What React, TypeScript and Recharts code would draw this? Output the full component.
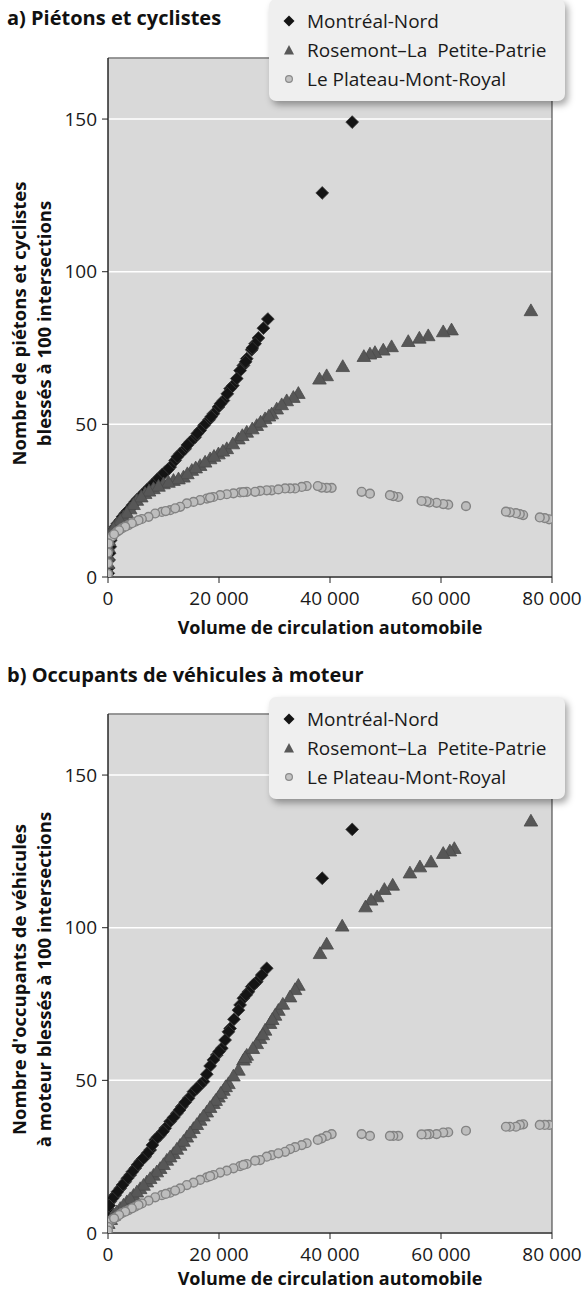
import React from "react";
import {
  ScatterChart,
  Scatter,
  XAxis,
  YAxis,
  CartesianGrid,
  ReferenceArea,
  Legend,
  Label,
} from "recharts";

const FONT = "'Open Sans', 'Noto Sans', sans-serif";

const SERIES_NAMES = [
  "Montréal-Nord",
  "Rosemont\u2013La  Petite-Patrie",
  "Le Plateau-Mont-Royal",
];
const X_TICKS = [0, 20000, 40000, 60000, 80000];
const Y_TICKS = [0, 50, 100, 150];

// a) piétons et cyclistes
const nordA_X = [
  28800, 27100, 26500, 25900, 25000, 24400, 23800, 22500, 22000, 20800, 19900,
  19000, 18200, 17300, 16600, 15700, 14800, 13900, 13000, 12100, 11200, 10300,
  9400, 8500, 7600, 6700, 5800, 4900, 4000, 3100, 2200, 1300, 700, 500, 400,
  300, 200, 100, 50, 38600, 44000,
  28000, 26000, 24800, 23200, 21500, 20300, 18600, 16100, 14300, 12500, 10800,
  9800, 8900, 8000, 7100, 6200, 5300, 4400, 3500, 2600, 1700, 1000,
];
const nordA_Y = [
  84.5, 78.3, 76.4, 74.4, 71.5, 69.3, 67.6, 62.7, 61.7, 57.8, 55.7, 53.5, 51.5,
  49.7, 48, 45.8, 44.2, 42, 40.4, 38.2, 36, 34.4, 32.8, 31.1, 29.5, 27.9, 26.2,
  24.6, 22.4, 20.8, 18.6, 16.4, 14.3, 12, 9.9, 7.8, 5.6, 3, 1.2, 125.8, 149,
  81.5, 75, 70.5, 65, 60, 56.8, 52.5, 47, 43.2, 39.4, 35.2,
  33.6, 32, 30.3, 28.7, 27, 25.4, 23.5, 21.6, 19.7, 17.5, 15.4,
];

const roseA_X = [
  61900, 60400, 57700, 56100, 54100, 51100, 49600, 48100, 47200, 46100, 42300,
  39400, 38100, 34300, 33400, 32200, 30400, 29500, 28300, 26800, 25000, 23500,
  21400, 19900, 18400, 16600, 15100, 13600, 11800, 10000, 8200, 6700, 5200,
  4000, 2800, 1600, 400, 50, 0, 0, 76200,
  31300, 29000, 27500, 26000, 24200, 22500, 20700, 19100, 17500, 15800, 14300,
  12700, 10900, 9100, 7400, 6000, 4600, 3400, 2200, 1000, 200, 0,
];
const roseA_Y = [
  81, 80.4, 79.1, 78.3, 77.2, 75.5, 74.4, 73.6, 73.1, 72.3, 69, 66, 64.9, 60.2,
  58.9, 57.8, 55.1, 53.5, 51.9, 49.7, 47.5, 45.3, 42.1, 40.4, 38.8, 36.6, 35,
  32.8, 31.7, 30.6, 29, 27.4, 25.2, 22.4, 19.7, 17.5, 14.3, 9.9, 4.5, 1, 87.3,
  56.5, 52.8, 50.8, 48.6, 46.4, 43.7, 41.3, 39.6, 37.7, 35.8, 33.9,
  32.2, 31.1, 29.8, 28.2, 26.3, 23.8, 21, 18.6, 16, 12, 7,
];

// même position des intersections du Plateau dans les deux graphiques
const plateau_X = [
  79500, 78700, 77800, 74800, 74200, 73500, 72400, 71700, 64500, 61300, 60400,
  59200, 57900, 57400, 56500, 52300, 51400, 50800, 47200, 45700, 40300, 39400,
  38500, 37800, 35800, 34900, 33700, 32800, 31900, 29500, 28600, 27400, 26500,
  25000, 23800, 22600, 21400, 20200, 19000, 17800, 16600, 15400, 14200, 13000,
  11200, 9700, 8500, 7300, 6100, 4900, 3700, 2500, 1600, 700, 100, 0, 0, 0,
  30700, 24400, 18400, 12100, 10400, 5500, 4300, 3100, 2000, 1100,
];
const plateauA_Y = [
  18.9, 19.3, 19.5, 20.3, 20.6, 20.9, 21.2, 21.4, 23.2, 23.7, 23.9, 24.3, 24.4,
  24.8, 24.9, 26.2, 26.5, 26.8, 27.3, 27.9, 29.2, 29.2, 29.3, 29.8, 29.8, 29.5,
  29, 29, 29, 28.4, 28.4, 28.2, 27.9, 27.9, 27.7, 27.4, 27.1, 26.8, 26.2, 25.7,
  25.2, 24.6, 24.1, 23, 21.9, 21.3, 20.8, 19.7, 19, 18.1, 17, 15.9, 14.8, 13.2,
  11, 8, 4.5, 1,
  28.7, 27.8, 26, 22.5, 21.6, 18.6, 17.6, 16.5, 15.3, 14,
];

// b) occupants de véhicules à moteur
const nordB_X = [
  28600, 26800, 25900, 25300, 24400, 23800, 23500, 22000, 21700, 20500, 19600,
  19000, 18400, 17200, 16600, 15400, 14500, 13300, 12400, 11200, 10300, 9400,
  8500, 7600, 6700, 5800, 4900, 4000, 3100, 2200, 1300, 400, 0, 0, 38600, 44000,
  27700, 26300, 24900, 22700, 21100, 20000, 17800, 16000, 13900, 12900, 11800,
  9900, 8900, 8000, 7100, 6200, 5300, 4400, 3500, 2600, 1700, 800, 200,
];
const nordB_Y = [
  86.7, 82.3, 80.7, 79, 76.9, 74.7, 73, 67, 65.9, 60.5, 58.3, 56.7, 54.7, 49.6,
  48.5, 46.3, 44.1, 41.4, 39.2, 36.5, 34.3, 32.1, 30.5, 27.2, 25, 23.4, 21.2,
  19, 16.8, 14.6, 12.4, 10.3, 8, 5, 116.2, 132.2,
  84.5, 81.5, 78, 70, 63.2, 59.4, 52, 47.4, 42.8, 40.3, 37.8,
  33.2, 31.3, 28.8, 26.1, 24.2, 22.3, 20.1, 17.9, 15.7, 13.5, 11.3, 9,
];

const roseB_X = [
  62400, 61600, 60400, 58200, 56200, 54400, 51300, 49800, 48500, 47400, 46400,
  42200, 39400, 38200, 34300, 33700, 32800, 30700, 30100, 29200, 28300, 27400,
  26800, 25000, 24400, 23500, 21700, 20800, 19900, 19000, 17800, 16600, 15400,
  14200, 13000, 11800, 10600, 9400, 8200, 7000, 5800, 4600, 3400, 2200, 1000,
  50, 0, 76200,
  31500, 29600, 27900, 26100, 24700, 22600, 21200, 20300, 19400, 18400, 17200,
  16000, 14800, 13600, 12400, 11200, 10000, 8800, 7600, 6400, 5200, 4000, 2800,
  1600, 500,
];
const roseB_Y = [
  126, 125.2, 124.4, 121.6, 120, 118, 114, 112.6, 110.2, 109.1, 106.9, 100.6,
  94.7, 91.6, 81.2, 79.8, 77.4, 73, 71.4, 68.7, 66.5, 63.8, 62.1, 58.3, 56.7,
  53.4, 49, 46.8, 44.6, 42.5, 39.7, 37, 34.3, 31.5, 28.8, 26.1, 23.9, 21.2, 19,
  16.8, 14.6, 12.4, 10.3, 8.1, 5.9, 3.2, 0.5, 135,
  75, 70, 65, 60.5, 57.5, 51.5, 48, 45.8, 43.5, 41.2, 38.4,
  35.6, 32.9, 30.1, 27.5, 25, 22.5, 20.1, 17.9, 15.7, 13.5, 11.3, 9.2,
  7, 4.5,
];

const plateauB_Y = [
  35.4, 35.4, 35.4, 35.6, 35.4, 34.8, 34.8, 34.8, 33.5, 33, 32.9, 32.4, 32.4,
  32.3, 32.3, 31.8, 31.8, 31.8, 31.8, 32.4, 32.4, 31.8, 31, 30.5, 29.4, 28.8,
  28.1, 27.5, 26.6, 25.5, 25, 23.9, 23.7, 22.6, 21.9, 21.2, 20.4, 19.8, 19, 18.2,
  17.4, 16.5, 15.7, 14.6, 13.2, 12.4, 11.7, 10.6, 9.7, 8.6, 7.5, 6.5, 5.3, 4.3,
  2.5, 3.5, 2, 0.8,
  26.1, 22.3, 18.6, 13.9, 12.8, 9.2, 8.1, 7, 5.9, 4.8,
];

type Pt = { x: number; y: number };
const zip = (xs: number[], ys: number[]): Pt[] =>
  xs.map((x, i) => ({ x, y: ys[i] }));

const DiamondShape = (p: any) => {
  const { cx, cy } = p;
  const r = 6.4;
  return (
    <polygon
      points={`${cx},${cy - r} ${cx + r},${cy} ${cx},${cy + r} ${cx - r},${cy}`}
      fill="#141414"
      stroke="#3a3a3a"
      strokeWidth={0.8}
    />
  );
};

const TriangleShape = (p: any) => {
  const { cx, cy } = p;
  return (
    <polygon
      points={`${cx},${cy - 6.6} ${cx + 6.8},${cy + 5.2} ${cx - 6.8},${cy + 5.2}`}
      fill="#575757"
      stroke="#4a4a4a"
      strokeWidth={0.8}
    />
  );
};

const CircleShape = (p: any) => {
  const { cx, cy } = p;
  return (
    <circle cx={cx} cy={cy} r={4.4} fill="#bdbdbd" stroke="#838383" strokeWidth={1.4} />
  );
};

const LegendMarker = ({ idx }: { idx: number }) => (
  <svg width={14} height={14} style={{ display: "block" }}>
    {idx === 0 && <polygon points="7,1.5 12.5,7 7,12.5 1.5,7" fill="#141414" />}
    {idx === 1 && <polygon points="7,2 12,11.5 2,11.5" fill="#585858" />}
    {idx === 2 && (
      <circle cx={7} cy={7} r={3.4} fill="#c4c4c4" stroke="#8a8a8a" strokeWidth={1.2} />
    )}
  </svg>
);

const renderLegend = () => (
  <div
    style={{
      width: 296,
      height: 102,
      boxSizing: "border-box",
      background: "#efefef",
      borderRadius: 7,
      boxShadow: "3px 4px 7px rgba(0,0,0,0.35)",
      paddingTop: 7,
      fontFamily: FONT,
      fontSize: 19,
      color: "#1a1a1a",
    }}
  >
    {SERIES_NAMES.map((name, i) => (
      <div
        key={name}
        style={{ display: "flex", alignItems: "center", height: 29, whiteSpace: "pre" }}
      >
        <div style={{ width: 14, marginLeft: 13, marginRight: 11 }}>
          <LegendMarker idx={i} />
        </div>
        <span>{name}</span>
      </div>
    ))}
  </div>
);

const xFmt = (v: number) => (v === 0 ? "0" : `${v / 1000} 000`);

interface PanelProps {
  top: number;
  height: number;
  title: string;
  titleTop: number;
  yLines: string[];
  xLabelOffset: number;
  legendTop: number;
  nord: Pt[];
  rose: Pt[];
  plateau: Pt[];
}

function Panel({
  top,
  height,
  title,
  titleTop,
  yLines,
  xLabelOffset,
  legendTop,
  nord,
  rose,
  plateau,
}: PanelProps) {
  const axisH = 30;
  const plotBottom = 577;

  const yLabel = (props: any) => {
    const vb = props.viewBox;
    const cy = vb.y + vb.height / 2 + 6;
    const xs = [18, 43];
    return (
      <g>
        {yLines.map((l, i) => (
          <text
            key={i}
            transform={`translate(${xs[i]},${cy}) rotate(-90)`}
            textAnchor="middle"
            dominantBaseline="central"
            fontFamily={FONT}
            fontWeight={700}
            fontSize={18.5}
            fill="#111"
          >
            {l}
          </text>
        ))}
      </g>
    );
  };

  const xLabel = (props: any) => {
    const vb = props.viewBox;
    return (
      <text
        x={vb.x + vb.width / 2}
        y={vb.y + xLabelOffset}
        textAnchor="middle"
        dominantBaseline="central"
        fontFamily={FONT}
        fontWeight={700}
        fontSize={18}
        fill="#111"
      >
        Volume de circulation automobile
      </text>
    );
  };

  return (
    <div style={{ position: "absolute", left: 0, top, width: 585, height }}>
      <ScatterChart
        width={585}
        height={height}
        margin={{ top: 58, right: 33, bottom: height - plotBottom - axisH, left: 0 }}
      >
        <CartesianGrid vertical={false} stroke="#ffffff" strokeWidth={1.5} fill="#d9d9d9" />
        <ReferenceArea
          x1={0}
          x2={80000}
          y1={0}
          y2={170}
          fill="none"
          stroke="#333"
          strokeWidth={1}
          ifOverflow="visible"
        />
        <XAxis
          type="number"
          dataKey="x"
          domain={[0, 80000]}
          ticks={X_TICKS}
          tickFormatter={xFmt}
          allowDataOverflow
          height={axisH}
          tickSize={6}
          tickMargin={9}
          axisLine={{ stroke: "#222" }}
          tickLine={{ stroke: "#222" }}
          tick={{ fontSize: 19, fill: "#1a1a1a", fontFamily: FONT }}
        >
          <Label content={xLabel} />
        </XAxis>
        <YAxis
          type="number"
          dataKey="y"
          domain={[0, 170]}
          ticks={Y_TICKS}
          allowDataOverflow
          width={108}
          tickSize={6}
          tickMargin={5}
          axisLine={{ stroke: "#222" }}
          tickLine={{ stroke: "#222" }}
          tick={{ fontSize: 19, fill: "#1a1a1a", fontFamily: FONT }}
        >
          <Label content={yLabel} />
        </YAxis>
        <Legend
          content={renderLegend}
          layout="vertical"
          align="center"
          verticalAlign="middle"
          wrapperStyle={{ left: 269, top: legendTop, width: 296, height: 102 }}
        />
        <Scatter
          name={SERIES_NAMES[0]}
          data={nord}
          shape={DiamondShape}
          fill="#141414"
          isAnimationActive={false}
        />
        <Scatter
          name={SERIES_NAMES[1]}
          data={rose}
          shape={TriangleShape}
          fill="#575757"
          isAnimationActive={false}
        />
        <Scatter
          name={SERIES_NAMES[2]}
          data={plateau}
          shape={CircleShape}
          fill="#bdbdbd"
          isAnimationActive={false}
        />
      </ScatterChart>
      <div
        style={{
          position: "absolute",
          left: 7,
          top: titleTop,
          fontFamily: FONT,
          fontWeight: 700,
          fontSize: 20,
          lineHeight: "26px",
          color: "#111",
          whiteSpace: "nowrap",
        }}
      >
        {title}
      </div>
    </div>
  );
}

export default function App() {
  return (
    <div
      style={{
        position: "absolute",
        left: 0,
        top: 0,
        width: 585,
        height: 1293,
        background: "#fff",
        overflow: "hidden",
      }}
    >
      <Panel
        top={0}
        height={656}
        title="a) Piétons et cyclistes"
        titleTop={5}
        yLines={["Nombre de piétons et cyclistes", "blessés à 100 intersections"]}
        xLabelOffset={50}
        legendTop={-1}
        nord={zip(nordA_X, nordA_Y)}
        rose={zip(roseA_X, roseA_Y)}
        plateau={zip(plateau_X, plateauA_Y)}
      />
      <Panel
        top={656}
        height={637}
        title="b) Occupants de véhicules à moteur"
        titleTop={6}
        yLines={["Nombre d'occupants de véhicules", "à moteur blessés à 100 intersections"]}
        xLabelOffset={45}
        legendTop={41}
        nord={zip(nordB_X, nordB_Y)}
        rose={zip(roseB_X, roseB_Y)}
        plateau={zip(plateau_X, plateauB_Y)}
      />
    </div>
  );
}
